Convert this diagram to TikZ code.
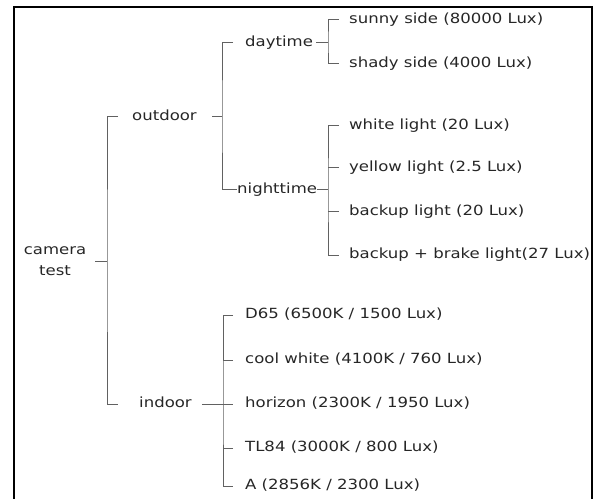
\documentclass[tikz,border=0pt]{standalone}
\usepackage{fontspec}
\setmainfont{DejaVu Sans}[FakeStretch=1.18]
\begin{document}
\begin{tikzpicture}[x=1bp,y=-1bp,
  lbl/.style={anchor=west,inner sep=0pt,text height=10bp,text depth=2.5bp,
    font=\fontsize{14bp}{21bp}\selectfont,text=black!85},
  rootlbl/.style={inner sep=0pt,align=center,
    font=\fontsize{14bp}{21bp}\selectfont,text=black!85},
  conn/.style={draw=black!62,line width=1bp},
  frame/.style={draw=black,line width=2.5bp}]
\useasboundingbox (0,0) rectangle (597,499);
\draw[frame] (14,515) -- (14,7) -- (592,7) -- (592,515);

% spines
\coordinate (sp0) at (107,261);
\coordinate (sp1) at (222,117);
\coordinate (sp2) at (328,43);
\coordinate (sp3) at (328,190);
\coordinate (sp4) at (223,404);

% nodes
\node[rootlbl] (root) at (55,261) {camera\\test};
\node[lbl] (outdoor) at (132,117) {outdoor};
\node[lbl] (indoor) at (139,404) {indoor};
\node[lbl] (daytime) at (245,43) {daytime};
\node[lbl] (nighttime) at (237,190) {nighttime};
\node[lbl] (sunny) at (349,20) {sunny side (80000 Lux)};
\node[lbl] (shady) at (349,64) {shady side (4000 Lux)};
\node[lbl] (white) at (349,126) {white light (20 Lux)};
\node[lbl] (yellow) at (349,168) {yellow light (2.5 Lux)};
\node[lbl] (backup) at (349,212) {backup light (20 Lux)};
\node[lbl] (brake) at (349,255) {backup + brake light(27 Lux)};
\node[lbl] (d65) at (245,315) {D65 (6500K / 1500 Lux)};
\node[lbl] (cool) at (245,360) {cool white (4100K / 760 Lux)};
\node[lbl] (horizon) at (245,404) {horizon (2300K / 1950 Lux)};
\node[lbl] (tl84) at (245,448) {TL84 (3000K / 800 Lux)};
\node[lbl] (a) at (245,486) {A (2856K / 2300 Lux)};

% connectors
\draw[conn] (sp0) -- ++(-12,0);
\draw[conn] ([xshift=-14bp]outdoor.west) -| (sp0) |- ([xshift=-21bp]indoor.west);

\draw[conn] (sp1) -- ++(-10,0);
\draw[conn] ([xshift=-12bp]daytime.west) -| (sp1) |- (nighttime.west);

\draw[conn] (sp2) -- ++(-12,0);
\draw[conn] ([xshift=-10bp]sunny.west) -| (sp2) |- ([xshift=-10bp]shady.west);

\draw[conn] (nighttime.east) -- (sp3);
\draw[conn] ([xshift=-10bp]white.west) -| (sp3) |- ([xshift=-10bp]brake.west);
\draw[conn] ([xshift=-10bp]yellow.west) -- (yellow.west -| sp3);
\draw[conn] ([xshift=-10bp]backup.west) -- (backup.west -| sp3);

\draw[conn] ([xshift=10bp]indoor.east) -- ([xshift=-12bp]horizon.west);
\draw[conn] ([xshift=-12bp]d65.west) -| (sp4) |- ([xshift=-12bp]a.west);
\draw[conn] ([xshift=-12bp]cool.west) -- (cool.west -| sp4);
\draw[conn] ([xshift=-12bp]tl84.west) -- (tl84.west -| sp4);
\end{tikzpicture}
\end{document}
